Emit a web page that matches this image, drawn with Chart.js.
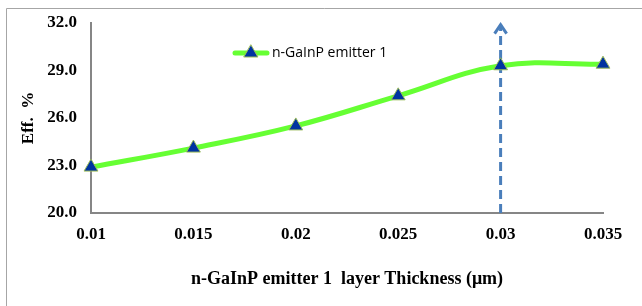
<!DOCTYPE html>
<html><head><meta charset="utf-8">
<script src="https://cdn.jsdelivr.net/npm/chart.js@4/dist/chart.umd.min.js"></script>
<style>html,body{margin:0;padding:0;background:#fff}#wrap{width:642px;height:306px;position:relative}</style>
</head><body><div id="wrap"><canvas id="c" width="642" height="306"></canvas></div>
<script>
const thickness = [0.01, 0.015, 0.02, 0.025, 0.03, 0.035];
const efficiency = [22.9, 24.1, 25.5, 27.4, 29.3, 29.4];
const seriesName = 'n-GaInP emitter 1';
const xTitle = 'n-GaInP emitter 1  layer Thickness (\u03bcm)';
const yTitle = 'Eff.  %';
const arrowX = 0.03;
const arrowY = [20, 31.9];

const serif = "'Liberation Serif','Times New Roman',serif";

const decor = {
  id: 'decor',
  beforeDraw(chart) {
    const ctx = chart.ctx;
    ctx.save();
    ctx.strokeStyle = '#a6a6a6';
    ctx.lineWidth = 1;
    ctx.beginPath();
    ctx.moveTo(6.5, 306); ctx.lineTo(6.5, 8.5); ctx.lineTo(642, 8.5);
    ctx.stroke();
    ctx.restore();
  },
  afterDatasetsDraw(chart) {
    const ctx = chart.ctx;
    const xs = chart.scales.x, ys = chart.scales.y;
    const ax = xs.getPixelForValue(arrowX);
    const ay = ys.getPixelForValue(arrowY[1]);
    ctx.save();
    ctx.strokeStyle = '#4a7ebb';
    ctx.lineWidth = 3;
    ctx.lineJoin = 'miter';
    ctx.beginPath();
    ctx.moveTo(ax - 6, ay + 9); ctx.lineTo(ax, ay); ctx.lineTo(ax + 6, ay + 9);
    ctx.stroke();
    // legend
    const lx = 233, ly = 53;
    ctx.strokeStyle = '#66ff33';
    ctx.lineWidth = 5;
    ctx.lineCap = 'round';
    ctx.beginPath(); ctx.moveTo(lx + 2, ly); ctx.lineTo(lx + 34, ly); ctx.stroke();
    const r = 8, cx = lx + 18;
    ctx.fillStyle = '#0033a0';
    ctx.strokeStyle = '#9bbb59';
    ctx.lineWidth = 1;
    ctx.beginPath();
    ctx.moveTo(cx, ly - r);
    ctx.lineTo(cx + r * 0.866, ly + r * 0.5);
    ctx.lineTo(cx - r * 0.866, ly + r * 0.5);
    ctx.closePath(); ctx.fill(); ctx.stroke();
    ctx.fillStyle = '#000';
    ctx.font = "14px 'Open Sans','Liberation Sans',sans-serif";
    ctx.textBaseline = 'middle';
    ctx.fillText(seriesName, 272, ly);
    ctx.restore();
  }
};

new Chart(document.getElementById('c'), {
  type: 'scatter',
  data: {
    datasets: [
      {
        label: 'arrow',
        data: arrowY.map(v => ({x: arrowX, y: v})),
        showLine: true,
        borderColor: '#4a7ebb',
        borderWidth: 3,
        borderDash: [9, 5],
        pointRadius: 0,
        clip: false,
        order: 2
      },
      {
        label: seriesName,
        data: thickness.map((t, i) => ({x: t, y: efficiency[i]})),
        showLine: true,
        tension: 0.4,
        borderColor: '#66ff33',
        borderWidth: 5,
        pointStyle: 'triangle',
        pointRadius: 8,
        pointBackgroundColor: '#0033a0',
        pointBorderColor: '#9bbb59',
        pointBorderWidth: 1,
        clip: false,
        order: 1
      }
    ]
  },
  options: {
    responsive: false,
    animation: false,
    layout: {padding: {top: 23, right: 39, bottom: 0, left: 0}},
    plugins: {legend: {display: false}, tooltip: {enabled: false}},
    scales: {
      x: {
        type: 'linear', min: 0.01, max: 0.035,
        grid: {display: false, drawTicks: true, tickLength: 5, tickColor: '#868686'},
        border: {color: '#868686', width: 2},
        ticks: {stepSize: 0.005, color: '#000', padding: 6,
          font: {family: serif, size: 17, weight: 'bold'},
          callback: v => String(+v.toFixed(3))},
        title: {display: true, text: xTitle, color: '#000', padding: {top: 0, bottom: 16},
          font: {family: serif, size: 18, weight: 'bold'}},
        afterFit: s => { s.height = 93; }
      },
      y: {
        min: 20, max: 32,
        grid: {display: false, drawTicks: true, tickLength: 5, tickColor: '#868686'},
        border: {color: '#868686', width: 2},
        ticks: {stepSize: 3, color: '#000', padding: 9,
          font: {family: serif, size: 17, weight: 'bold'},
          callback: v => v.toFixed(1)},
        title: {display: true, text: yTitle, color: '#000', padding: {top: 18, bottom: 0},
          font: {family: serif, size: 17, weight: 'bold'}},
        afterFit: s => { s.width = 91; }
      }
    }
  },
  plugins: [decor]
});
</script></body></html>
